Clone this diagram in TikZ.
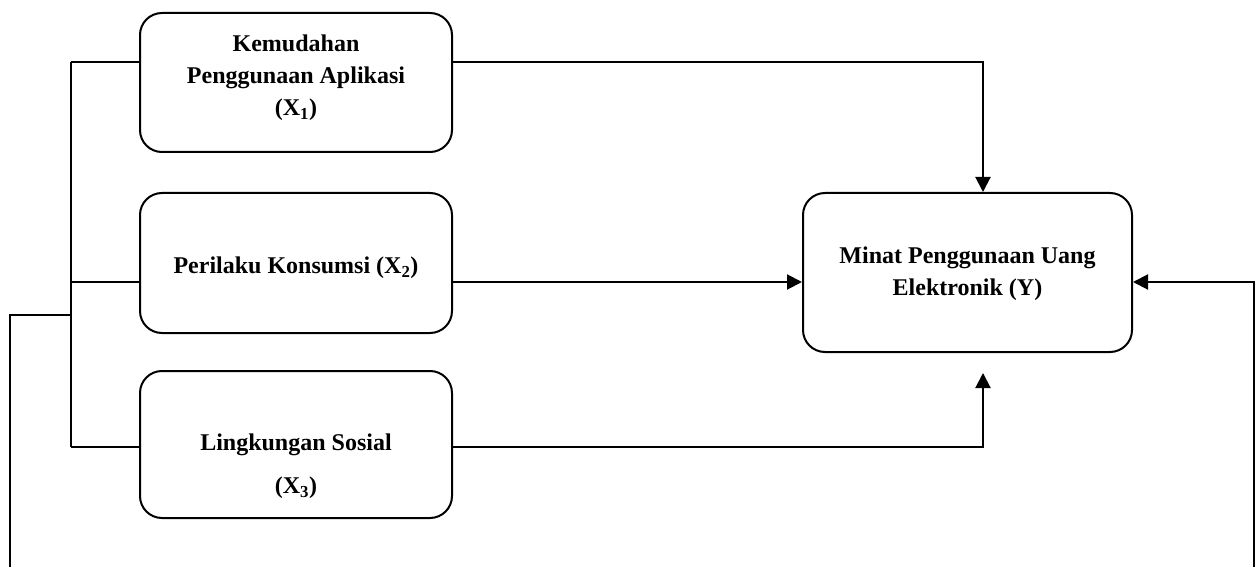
\documentclass[tikz,border=0pt]{standalone}
\usepackage{fontspec}
\setmainfont{Liberation Serif}
\usetikzlibrary{arrows.meta,calc}
\begin{document}
\begin{tikzpicture}[x=1pt,y=-1pt,
  box/.style={draw,line width=2pt,rounded corners=22pt,inner sep=0pt},
  lbl/.style={font=\fontsize{24}{32}\selectfont\bfseries,align=center,inner sep=0pt},
  conn/.style={line width=2pt},
  arr/.style={conn,-{Triangle[length=15pt,width=15pt]}}]
\useasboundingbox (0,0) rectangle (1259,567);
\clip (0,0) rectangle (1259,567);
% boxes
\node[box,minimum width=312pt,minimum height=139pt] (x1) at (296,82.5) {};
\node[box,minimum width=312pt,minimum height=140pt] (x2) at (296,263) {};
\node[box,minimum width=312pt,minimum height=147pt] (x3) at (296,444.5) {};
\node[box,minimum width=329pt,minimum height=159pt] (y) at (967.5,272.5) {};
% labels
\node[lbl] (x1t) at (296,78) {Kemudahan\\Penggunaan Aplikasi\\(X\textsubscript{1})};
\node[lbl] (x2t) at (296,268) {Perilaku Konsumsi (X\textsubscript{2})};
\node[lbl,font=\fontsize{24}{43}\selectfont\bfseries] (x3t) at (296,466) {Lingkungan Sosial\\(X\textsubscript{3})};
\node[lbl] (yt) at (967.5,274) {Minat Penggunaan Uang\\Elektronik (Y)};
% junction coordinates
\coordinate (j1) at (71,62);
\coordinate (j2) at (71,282);
\coordinate (j3) at (71,447);
\coordinate (jf) at (71,315);
\coordinate (fl) at (10,575);
\coordinate (fr) at (1254,575);
\coordinate (ytop) at ($(y.north)+(15.5,0)$);
\coordinate (ybot) at ($(y.south)+(15.5,20)$);
\coordinate (yright) at ($(y.east)+(0,9.5)$);
% left trunk
\draw[conn] (j1) -- (j3);
\draw[conn] (j1) -- (j1 -| x1.west);
\draw[conn] (j2) -- (j2 -| x2.west);
\draw[conn] (j3) -- (j3 -| x3.west);
% feedback loop
\draw[conn] (jf) -| (fl);
\draw[arr] (fr) |- (yright);
% to Y
\draw[arr] (j1 -| x1.east) -| (ytop);
\draw[arr] (j2 -| x2.east) -- (j2 -| y.west);
\draw[arr] (j3 -| x3.east) -| (ybot);
\end{tikzpicture}
\end{document}
